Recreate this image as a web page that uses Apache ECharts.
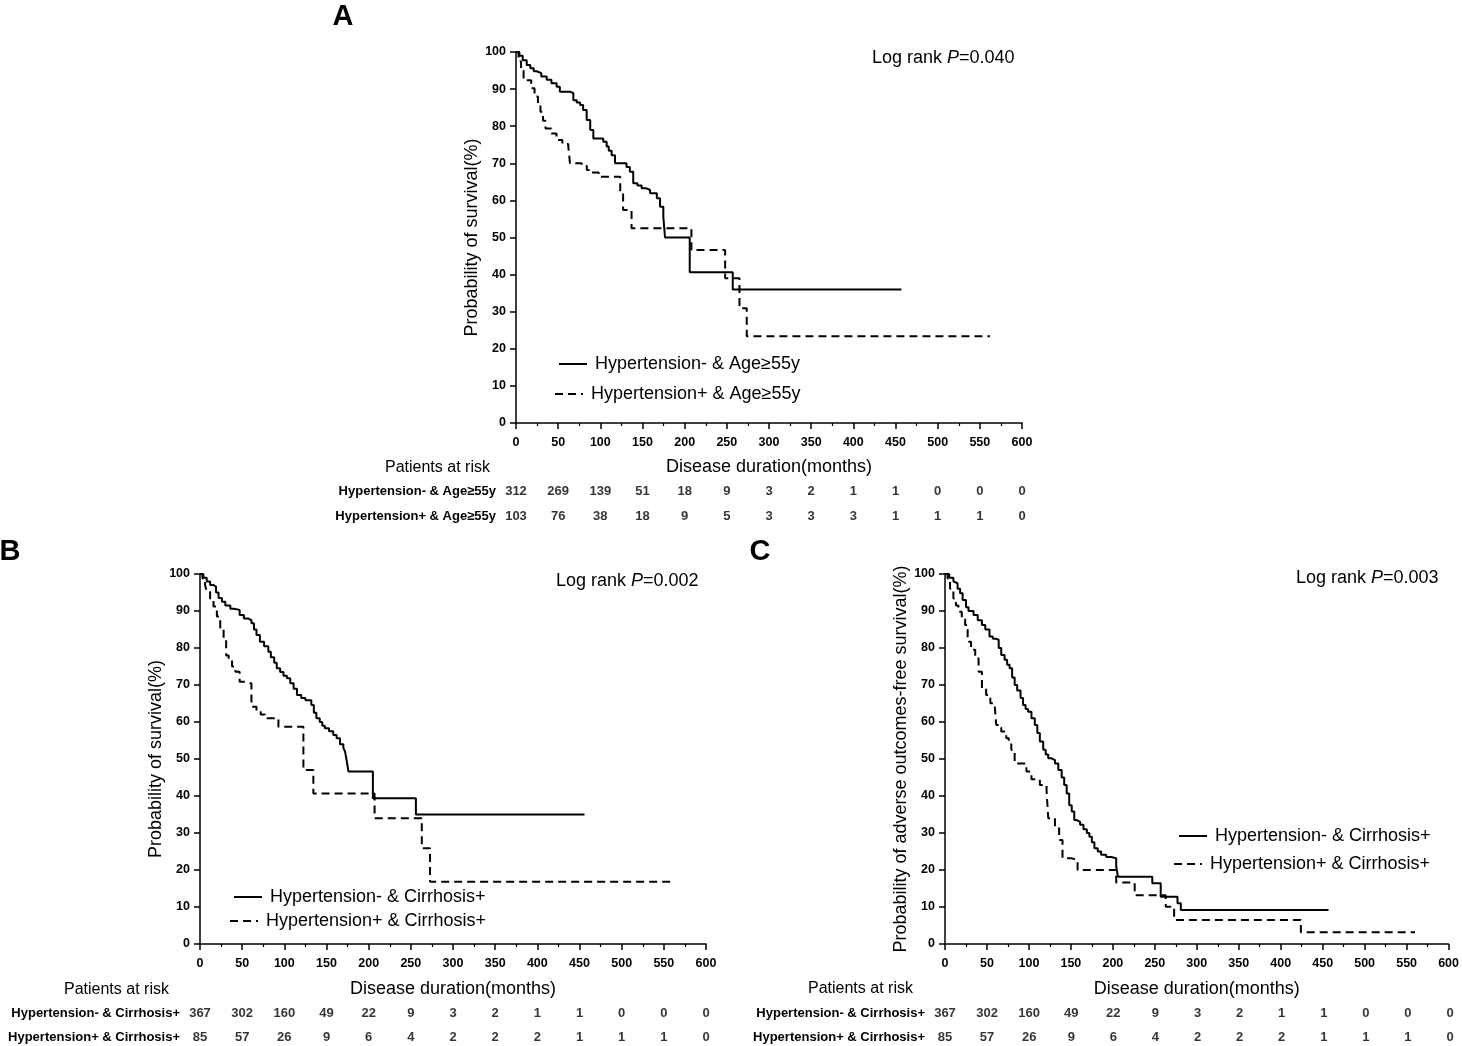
<!DOCTYPE html>
<html lang="en">
<head>
  <meta charset="UTF-8">
  <title>Kaplan-Meier curves</title>
  <script src="https://cdn.jsdelivr.net/npm/echarts@6/dist/echarts.min.js"></script>
  <style>
    html, body { margin: 0; padding: 0; background: #fff; }
  </style>
</head>
<body>
<div id="main" style="width: 1462px;height:1046px;"></div>
<script type="text/javascript">

// survival curves: [months, survival %] at each drop
const curveA1 = [[0,100],[4,99],[8,97.8],[12.7,96.5],[17,95.6],[21,94.8],[24.5,94.3],[30,93.4],[36.4,92.5],[42,91.6],[48.2,90.6],[52,89.3],[64,88.9],[68,87],[72,86.4],[76,85.7],[79.6,84.4],[83.8,81.7],[88,79],[91.7,76.7],[103.5,75.8],[107.5,74.5],[110,73.4],[113.4,72.2],[117.4,70],[131,69],[135,67.7],[139,64.6],[144,64],[149,63.3],[154,62.8],[159,61.9],[167,60.6],[170.8,58.3],[174.7,55.6],[176.7,50],[206,40.6],[257,36],[457,36]];
const curveA2 = [[0,100],[3,97.5],[6,95],[9,92.4],[18,90.2],[22,88],[26,86],[29,83.9],[32,81.5],[35,79.4],[42,78],[48,76.3],[55,75.2],[62,74.5],[64,70],[78,69.3],[84,68.2],[90,67.5],[98,66.4],[123.6,62],[127,57.4],[137,52.5],[208,46.6],[248,39],[265,30.9],[273.6,23.4],[562,23.4]];
const curveB1 = [[0,100],[4,99],[8,98],[12,97],[16,96.6],[19,95],[22,93.5],[26,92.5],[30,91.5],[36,90.6],[40,90.3],[47,88.9],[52,88],[57,87.5],[61,86.7],[64,85],[67,83.5],[71,81.7],[76,80.5],[81,79],[84,77.5],[88,76],[91,74.5],[95,73.5],[99,72.5],[103,71.8],[107,70.5],[111,69],[115,67.3],[120,66.5],[125,65.9],[132,64.6],[135,62.5],[138,61],[142,60],[145,59],[148,58.3],[153,57.5],[158,56.5],[162,55.6],[166,54],[170,53],[172,52],[174,49.5],[176,46.6],[205,39.4],[256,35],[456,35]];
const curveB2 = [[0,100],[3,98.8],[6,97],[8,95.2],[12,93],[16,91.2],[20,88.5],[24,85.5],[28,82.6],[31,78],[34,77],[38,75],[42,73.6],[47,70.9],[55,70.4],[61,64.1],[67,62.8],[72,62],[77,61],[93,58.7],[122.6,47],[134.4,40.7],[207,34],[263,25.9],[272.7,16.8],[563,16.8]];
const curveC1 = [[0,100],[5,99],[10,98],[12,97.5],[15,96],[18,94.8],[21,93],[25,91],[28,90],[34,88.9],[39,87.5],[44,86.2],[48,85],[53,83.1],[57,82.5],[61,82.2],[64,80],[67,78.1],[71,76.8],[74,75.5],[77,74.5],[80,72],[83,70],[86,68.5],[90,66.5],[93,64.6],[96,63.5],[99,62.8],[103,61],[107,59.2],[110,57],[113,54.7],[117,52.5],[120,51.2],[123,50.2],[127,49.7],[131,48.8],[135,47],[139,45],[142,43],[145,40.7],[148,37.5],[151,35.8],[154,33.5],[157,33],[161,32.2],[165,31],[169,30],[172,29],[175,27.5],[178,25.9],[182,25],[186,24.1],[192,23.5],[198,23.2],[204,21],[206,18.2],[247,16.4],[257,12.8],[277,11],[281,9.2],[457,9.2]];
const curveC2 = [[0,100],[3,98.8],[6,96],[10,93.4],[13,91.5],[16,89.8],[20,88],[24,86.2],[27,81.7],[31,79.5],[36,77.2],[40,73.6],[44,69.1],[49,67.3],[54,65.1],[59,64.6],[61,59.2],[64,58.5],[67,57.4],[73,55.6],[76,54],[79,52.4],[83,48.8],[97,46.6],[103,44.5],[113,43],[121,41.4],[123,34],[131,31.3],[136,28.1],[140,23.2],[150,22.7],[158,20],[204,16.6],[226,13.2],[263,10.1],[273,6.5],[424,3.2],[560,3.2]];

// numbers at risk
const riskTimes = [0, 50, 100, 150, 200, 250, 300, 350, 400, 450, 500, 550, 600];
const namesA = ['Hypertension- & Age≥55y', 'Hypertension+ & Age≥55y'];
const namesBC = ['Hypertension- & Cirrhosis+', 'Hypertension+ & Cirrhosis+'];
const riskA1 = [312, 269, 139, 51, 18, 9, 3, 2, 1, 1, 0, 0, 0];
const riskA2 = [103, 76, 38, 18, 9, 5, 3, 3, 3, 1, 1, 1, 0];
const riskBC1 = [367, 302, 160, 49, 22, 9, 3, 2, 1, 1, 0, 0, 0];
const riskBC2 = [85, 57, 26, 9, 6, 4, 2, 2, 2, 1, 1, 1, 0];
const pValues = ['0.040', '0.002', '0.003'];

const FONT = "'Liberation Sans', Arial, sans-serif";
const myChart = echarts.init(document.getElementById('main'));

// plot areas, then the risk tables under them (first/last row on the grid edges)
const grids = [
  {left: 516, top: 52, width: 506, height: 371},
  {left: 200, top: 574, width: 506, height: 370},
  {left: 945, top: 574, width: 505, height: 370},
  {left: 516, top: 491, width: 506, height: 25},
  {left: 200, top: 1013, width: 506, height: 24},
  {left: 945, top: 1013, width: 505, height: 24}
];

function plotX(idx) {
  return {
    type: 'value', gridIndex: idx, min: 0, max: 600, interval: 50,
    name: 'Disease duration(months)', nameLocation: 'middle', nameGap: idx === 0 ? 35 : 36,
    nameTextStyle: {fontFamily: FONT, fontSize: 18, color: '#000'},
    axisLine: {onZero: false, lineStyle: {color: '#000', width: 1.5}},
    axisTick: {length: 6, lineStyle: {color: '#000', width: 1.5}},
    minorTick: {show: true, splitNumber: 2, length: 3, lineStyle: {color: '#000', width: 1.2}},
    axisLabel: {fontFamily: FONT, fontSize: 12.5, fontWeight: 'bold', color: '#000', margin: 13},
    splitLine: {show: false}
  };
}
function plotY(idx, name, gap) {
  return {
    type: 'value', gridIndex: idx, min: 0, max: 100, interval: 10,
    name: name, nameLocation: 'middle', nameGap: gap,
    nameTextStyle: {fontFamily: FONT, fontSize: 18, color: '#000'},
    axisLine: {onZero: false, lineStyle: {color: '#000', width: 1.5}},
    axisTick: {length: 6, lineStyle: {color: '#000', width: 1.5}},
    axisLabel: {fontFamily: FONT, fontSize: 12.5, fontWeight: 'bold', color: '#000', margin: 10},
    splitLine: {show: false}
  };
}
function tableX(idx) {
  return {type: 'value', gridIndex: idx, min: 0, max: 600, show: false};
}
function tableY(idx, rows) {
  return {
    type: 'category', gridIndex: idx, data: rows, inverse: true, boundaryGap: false,
    axisLine: {show: false}, axisTick: {show: false}, splitLine: {show: false},
    axisLabel: {fontFamily: FONT, fontSize: 13, fontWeight: 'bold', color: '#000', margin: 20}
  };
}

function curve(name, data, idx, dashed) {
  return {
    name: name, type: 'line', step: 'end', data: data,
    xAxisIndex: idx, yAxisIndex: idx,
    symbol: 'none', showSymbol: false, silent: true,
    lineStyle: {color: '#000', width: 2, type: dashed ? [8, 5] : 'solid'},
    itemStyle: {color: '#000'}
  };
}
function riskRow(rowName, counts, idx) {
  return {
    type: 'scatter', xAxisIndex: idx, yAxisIndex: idx,
    data: counts.map((c, i) => [riskTimes[i], rowName, c]),
    symbolSize: 1, itemStyle: {color: 'rgba(0,0,0,0)'}, silent: true,
    label: {
      show: true, position: 'inside', formatter: p => p.value[2],
      fontFamily: FONT, fontSize: 13, fontWeight: 'bold', color: '#000'
    }
  };
}
function legendAt(name, left, top) {
  return {
    data: [name], left: left, top: top,
    itemWidth: 28, itemHeight: 14, selectedMode: false,
    itemStyle: {opacity: 0},
    lineStyle: {width: 2},
    textStyle: {fontFamily: FONT, fontSize: 18, color: '#000', padding: [0, 0, 0, 3]}
  };
}
function txt(x, y, str, size, weight, align) {
  return {
    type: 'text', x: x, y: y, silent: true,
    style: {text: str, font: (weight || 'normal') + ' ' + size + 'px ' + FONT, fill: '#000',
      textAlign: align || 'left', textVerticalAlign: 'middle'}
  };
}
function logRank(x, y, p) {
  return {
    type: 'text', x: x, y: y, silent: true,
    style: {
      text: '{a|Log rank }{i|P}{a|=' + p + '}', textVerticalAlign: 'middle',
      rich: {
        a: {fontFamily: FONT, fontSize: 18, fill: '#000'},
        i: {fontFamily: FONT, fontSize: 18, fontStyle: 'italic', fill: '#000'}
      }
    }
  };
}

const option = {
  animation: false,
  backgroundColor: '#fff',
  grid: grids,
  xAxis: [plotX(0), plotX(1), plotX(2), tableX(3), tableX(4), tableX(5)],
  yAxis: [
    plotY(0, 'Probability of survival(%)', 30),
    plotY(1, 'Probability of survival(%)', 31),
    plotY(2, 'Probability of adverse outcomes-free survival(%)', 33),
    tableY(3, namesA), tableY(4, namesBC), tableY(5, namesBC)
  ],
  legend: [
    legendAt(namesA[0], 553, 350),
    legendAt(namesA[1], 549, 380),
    legendAt(namesBC[0], 228, 883),
    legendAt(namesBC[1], 224, 907),
    legendAt(namesBC[0], 1173, 822),
    legendAt(namesBC[1], 1168, 850)
  ],
  series: [
    curve(namesA[0], curveA1, 0, false),
    curve(namesA[1], curveA2, 0, true),
    curve(namesBC[0], curveB1, 1, false),
    curve(namesBC[1], curveB2, 1, true),
    curve(namesBC[0], curveC1, 2, false),
    curve(namesBC[1], curveC2, 2, true),
    riskRow(namesA[0], riskA1, 3),
    riskRow(namesA[1], riskA2, 3),
    riskRow(namesBC[0], riskBC1, 4),
    riskRow(namesBC[1], riskBC2, 4),
    riskRow(namesBC[0], riskBC1, 5),
    riskRow(namesBC[1], riskBC2, 5)
  ],
  graphic: [
    txt(343, 17, 'A', 29, 'bold', 'center'),
    txt(10, 552, 'B', 29, 'bold', 'center'),
    txt(760, 552, 'C', 29, 'bold', 'center'),
    logRank(872, 58, pValues[0]),
    logRank(556, 581, pValues[1]),
    logRank(1296, 578, pValues[2]),
    txt(385, 468, 'Patients at risk', 16),
    txt(64, 990, 'Patients at risk', 16),
    txt(808, 989, 'Patients at risk', 16)
  ]
};
myChart.setOption(option);
</script>
</body>
</html>
